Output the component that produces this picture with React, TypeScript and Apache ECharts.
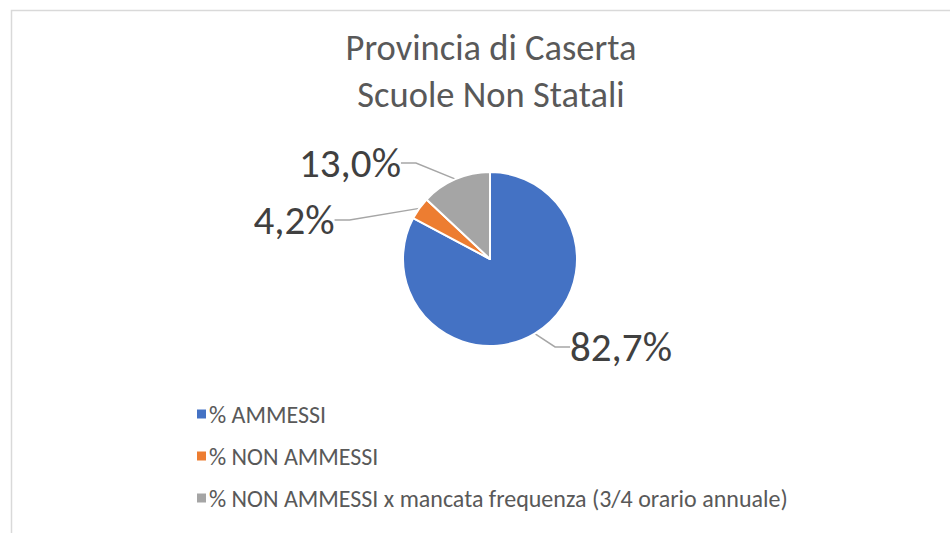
import React, { useEffect, useRef } from "react";
import * as echarts from "echarts";

const titleLines = ["Provincia di Caserta", "Scuole Non Statali"];
const categories = [
  "% AMMESSI",
  "% NON AMMESSI",
  "% NON AMMESSI x mancata frequenza (3/4 orario annuale)",
];
const values = [82.7, 4.2, 13.0];
const labels = ["82,7%", "4,2%", "13,0%"];
const colors = ["#4472C4", "#ED7D31", "#A5A5A5"];
const labelPositions = [
  [621, 347],
  [294, 220],
  [350, 163],
];

const FONT = "Carlito, Calibri, Lato, 'Open Sans', sans-serif";

export default function App() {
  const ref = useRef<HTMLDivElement>(null);
  useEffect(() => {
    if (!ref.current) return;
    const chart = echarts.init(ref.current, undefined, { renderer: "svg" });
    chart.setOption({
      animation: false,
      backgroundColor: "#ffffff",
      title: {
        text: titleLines.join("\n"),
        left: 486,
        textAlign: "center",
        top: 19,
        textStyle: {
          fontFamily: FONT,
          fontSize: 36.5,
          fontWeight: "normal",
          color: "#595959",
          lineHeight: 47,
        },
      },
      legend: {
        orient: "vertical",
        left: 190,
        top: 397,
        itemWidth: 11,
        itemHeight: 11,
        itemGap: 18,
        icon: "rect",
        data: categories,
        textStyle: { fontFamily: FONT, fontSize: 24, color: "#595959", padding: [0, 0, 0, -3] },
      },
      graphic: [
        {
          type: "rect",
          shape: { x: 11.5, y: 10.5, width: 1000, height: 700 },
          style: { fill: "none", stroke: "#d9d9d9", lineWidth: 1.5 },
          silent: true,
        },
      ],
      series: [
        {
          type: "pie",
          center: [490, 259],
          radius: 87,
          startAngle: 90,
          clockwise: true,
          itemStyle: { borderColor: "#ffffff", borderWidth: 2 },
          label: {
            show: true,
            position: "outside",
            formatter: (p: any) => labels[p.dataIndex],
            fontFamily: FONT,
            fontSize: 41,
            color: "#404040",
          },
          labelLine: {
            show: true,
            length: 15,
            length2: 15,
            lineStyle: { color: "#A6A6A6", width: 1.5 },
          },
          labelLayout: (params: any) => {
            const p = labelPositions[params.dataIndex];
            return { x: p[0], y: p[1], align: "center", verticalAlign: "middle" };
          },
          data: categories.map((name, i) => ({
            name,
            value: values[i],
            itemStyle: { color: colors[i] },
          })),
        },
      ],
    });
    return () => chart.dispose();
  }, []);
  return (
    <div
      ref={ref}
      style={{ position: "fixed", left: 0, top: 0, width: 950, height: 533 }}
    />
  );
}
